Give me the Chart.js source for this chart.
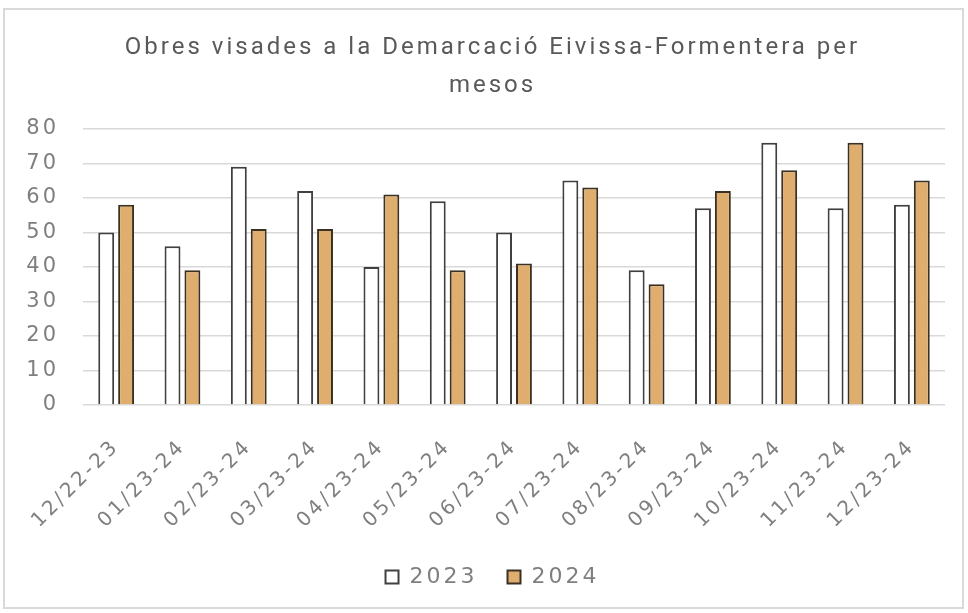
<!DOCTYPE html>
<html>
<head>
<meta charset="utf-8">
<script src="https://cdn.jsdelivr.net/npm/chart.js@4"></script>
<style>
  body { margin: 0; background: #fff; }
</style>
</head>
<body>
<canvas id="obres" width="968" height="613"></canvas>
<script>
// ---------- DATA ----------
const months = ['12/22-23', '01/23-24', '02/23-24', '03/23-24', '04/23-24', '05/23-24', '06/23-24',
  '07/23-24', '08/23-24', '09/23-24', '10/23-24', '11/23-24', '12/23-24'];
const obres2023 = [50, 46, 69, 62, 40, 59, 50, 65, 39, 57, 76, 57, 58];
const obres2024 = [58, 39, 51, 51, 61, 39, 41, 63, 35, 62, 68, 76, 65];
const yTicks = [0, 10, 20, 30, 40, 50, 60, 70, 80];

const greyText = '#7f7f7f';
const tickFont = { family: "'DejaVu Sans', sans-serif", size: 21 };

// the original text is set wide, so spread the letters a little
// (set before layout too, so the legend measures the same way it draws)
const spacing = {
  id: 'spacing',
  beforeLayout(chart) { chart.ctx.letterSpacing = '3px'; },
  beforeDraw(chart) {
    const c = chart.ctx;
    c.letterSpacing = '3px';
    // white page and light frame round the whole chart
    c.save();
    c.fillStyle = '#fff';
    c.fillRect(0, 0, chart.width, chart.height);
    c.strokeStyle = '#d9d9d9';
    c.lineWidth = 2;
    c.strokeRect(4, 9, 959, 599);
    c.restore();
  }
};

const ctx = document.getElementById('obres');
new Chart(ctx, {
  type: 'bar',
  data: {
    labels: months,
    datasets: [{
      label: '2023',
      data: obres2023,
      backgroundColor: '#ffffff',
      borderColor: '#404040',
      borderWidth: 2,
      borderSkipped: 'bottom'
    }, {
      label: '2024',
      data: obres2024,
      backgroundColor: '#dfae6e',
      borderColor: '#3b3122',
      borderWidth: 2,
      borderSkipped: 'bottom'
    }]
  },
  plugins: [spacing],
  options: {
    responsive: false,
    animation: false,
    // left padding keeps the title and legend centred where the original has them
    layout: { padding: { left: 40, right: 23, top: 19, bottom: 15 } },
    datasets: { bar: { categoryPercentage: 0.6, barPercentage: 0.8 } },
    plugins: {
      title: {
        display: true,
        text: ['Obres visades a la Demarcació Eivissa-Formentera per', 'mesos'],
        color: '#595959',
        font: { family: 'Roboto', size: 24, weight: 'normal', lineHeight: 1.58 },
        padding: { top: 10, bottom: 24 }
      },
      legend: {
        position: 'bottom',
        labels: {
          color: greyText,
          font: { family: "'DejaVu Sans', sans-serif", size: 22 },
          boxWidth: 13,
          boxHeight: 13,
          padding: 30
        }
      },
      tooltip: { enabled: false }
    },
    scales: {
      x: {
        grid: { display: false },
        border: { display: false },
        ticks: {
          color: greyText,
          font: { family: "'DejaVu Sans', sans-serif", size: 20 },
          maxRotation: 45,
          minRotation: 45,
          autoSkip: false,
          padding: 22
        },
        afterFit(scale) { scale.height = 131; }
      },
      y: {
        min: 0,
        max: 80,
        afterBuildTicks(scale) { scale.ticks = yTicks.map(v => ({ value: v })); },
        grid: { color: '#d9d9d9', lineWidth: 1.5, drawTicks: false },
        border: { display: false },
        ticks: { color: greyText, font: tickFont, padding: 24 },
        afterFit(scale) {
          scale.width = 43;
          // labels reach into the left padding, so don't clip them to the axis box
          scale._computeLabelArea = () => undefined;
        }
      }
    }
  }
});
</script>
</body>
</html>
